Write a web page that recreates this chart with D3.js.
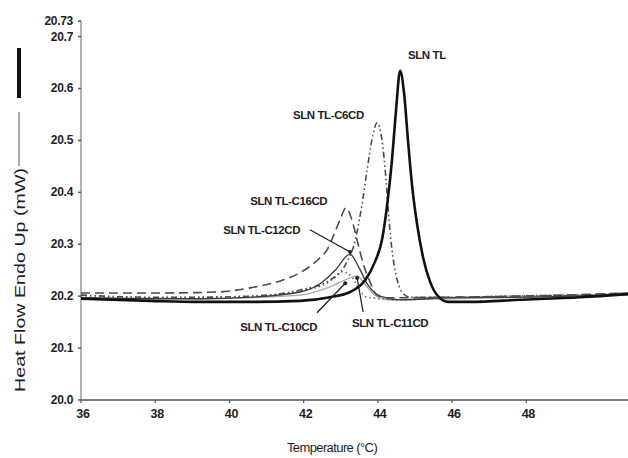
<!DOCTYPE html>
<html>
<head>
<meta charset="utf-8">
<script src="https://cdn.jsdelivr.net/npm/d3@7"></script>
<style>
  html, body { margin: 0; padding: 0; background: #fff; }
  text { font-family: "Liberation Sans", Arial, sans-serif; fill: #1e1e1e; }
</style>
</head>
<body>
<div id="chart"></div>
<script>
// Data: [temperature, heat flow]
const xTicks = [36, 38, 40, 42, 44, 46, 48]
const yTicks = [20.0, 20.1, 20.2, 20.3, 20.4, 20.5, 20.6, 20.7, 20.73]
const yTickLabels = ['20.0', '20.1', '20.2', '20.3', '20.4', '20.5', '20.6', '20.7', '20.73']

const slnTL = [[36.00,20.195],[37.86,20.191],[39.21,20.189],[40.56,20.189],[41.90,20.191],[42.71,20.198],
  [43.25,20.208],[43.66,20.231],[43.92,20.266],[44.11,20.308],[44.25,20.376],[44.38,20.462],[44.49,20.559],
  [44.60,20.634],[44.71,20.588],[44.81,20.501],[44.92,20.414],[45.06,20.337],[45.22,20.274],[45.41,20.227],
  [45.62,20.200],[45.89,20.189],[46.49,20.189],[47.83,20.193],[49.45,20.198],[50.74,20.204]]
const slnC6 = [[36.00,20.202],[37.86,20.198],[39.21,20.198],[40.56,20.200],[41.90,20.212],[42.71,20.231],
  [43.12,20.260],[43.39,20.308],[43.57,20.376],[43.71,20.443],[43.84,20.501],[43.98,20.534],[44.11,20.501],
  [44.22,20.424],[44.30,20.347],[44.38,20.289],[44.49,20.241],[44.65,20.208],[44.87,20.198],[45.95,20.198],
  [47.83,20.200],[49.45,20.202],[50.74,20.206]]
const slnC16 = [[36.00,20.206],[37.86,20.206],[39.67,20.208],[40.56,20.216],[41.44,20.231],[41.90,20.245],
  [42.44,20.274],[42.63,20.289],[42.79,20.314],[42.98,20.347],[43.14,20.370],[43.30,20.347],[43.44,20.308],
  [43.60,20.264],[43.79,20.227],[43.95,20.204],[44.19,20.197],[45.95,20.198],[47.83,20.200],[50.74,20.206]]
const slnC12 = [[36.00,20.197],[37.86,20.195],[39.21,20.195],[40.56,20.198],[41.90,20.208],[42.44,20.224],
  [42.85,20.250],[43.25,20.281],[43.47,20.258],[43.71,20.224],[44.06,20.200],[44.60,20.193],[45.95,20.197],
  [47.83,20.198],[50.74,20.204]]
const slnC10 = [[36.00,20.198],[37.86,20.197],[40.56,20.200],[41.90,20.210],[42.63,20.225],[43.06,20.247],
  [43.30,20.237],[43.52,20.210],[43.71,20.198],[44.60,20.193],[45.95,20.197],[50.74,20.204]]
const slnC11 = [[36.00,20.197],[39.21,20.195],[41.90,20.202],[42.71,20.218],[43.25,20.235],[43.44,20.239],
  [43.66,20.222],[43.92,20.202],[44.33,20.193],[45.95,20.195],[50.74,20.202]]

// Curve labels: text, anchor point [t, v], optional pointer [from, to]
const labels = [
  { text: 'SLN TL', at: [44.81, 20.657] },
  { text: 'SLN TL-C6CD', at: [41.71, 20.541] },
  { text: 'SLN TL-C16CD', at: [40.56, 20.376] },
  { text: 'SLN TL-C12CD', at: [39.83, 20.320], line: [[42.17, 20.328], [43.25, 20.285]] },
  { text: 'SLN TL-C10CD', at: [40.29, 20.133], line: [[42.36, 20.168], [43.12, 20.225]] },
  { text: 'SLN TL-C11CD', at: [43.30, 20.141], line: [[43.60, 20.170], [43.44, 20.235]] }
]

const series = [
  { data: slnC11, color: '#a8a8a8', width: 1.3, dash: null },
  { data: slnC10, color: '#6a6a6a', width: 1.6, dash: '1.5,3' },
  { data: slnC12, color: '#3a3a3a', width: 1.3, dash: null },
  { data: slnC16, color: '#4a4a4a', width: 1.6, dash: '9,5' },
  { data: slnC6, color: '#4a4a4a', width: 1.6, dash: '6,3,1.5,3,1.5,3' },
  { data: slnTL, color: '#111111', width: 2.6, dash: null }
]

const width = 628
const height = 458

const svg = d3.select('#chart')
  .append('svg')
    .attr('width', width)
    .attr('height', height)

const x = d3.scaleLinear().domain([36, 50.74]).range([81, 628])
const y = d3.scaleLinear().domain([20, 20.73]).range([400, 21])

// Y axis
svg.append('line')
  .attr('x1', x(36)).attr('x2', x(36))
  .attr('y1', y(20)).attr('y2', y(20.73))
  .attr('stroke', '#9a9a9a').attr('stroke-width', 1.5)

yTicks.forEach((v, i) => {
  svg.append('line')
    .attr('x1', x(36) - 3).attr('x2', x(36))
    .attr('y1', y(v)).attr('y2', y(v))
    .attr('stroke', '#555').attr('stroke-width', 1.5)
  svg.append('text')
    .attr('x', x(36) - 8)
    .attr('y', y(v) + 4)
    .attr('text-anchor', 'end')
    .attr('font-size', 12)
    .attr('font-weight', 'bold')
    .attr('letter-spacing', -0.3)
    .text(yTickLabels[i])
})

// X axis
svg.append('line')
  .attr('x1', x(36)).attr('x2', 628)
  .attr('y1', y(20)).attr('y2', y(20))
  .attr('stroke', '#555').attr('stroke-width', 1.6)

xTicks.forEach(t => {
  svg.append('line')
    .attr('x1', x(t)).attr('x2', x(t))
    .attr('y1', y(20)).attr('y2', y(20) + 3)
    .attr('stroke', '#555').attr('stroke-width', 1.2)
  svg.append('text')
    .attr('x', x(t) + 2)
    .attr('y', y(20) + 18)
    .attr('text-anchor', 'middle')
    .attr('font-size', 12.5)
    .attr('font-weight', 'bold')
    .attr('letter-spacing', -0.3)
    .text(t)
})

svg.append('text')
  .attr('x', 332)
  .attr('y', 452)
  .attr('text-anchor', 'middle')
  .attr('font-size', 13)
  .attr('letter-spacing', -0.6)
  .text('Temperature (°C)')

// Y title with the two line swatches above it
svg.append('rect')
  .attr('x', 17).attr('y', 48).attr('width', 4).attr('height', 50)
  .attr('fill', '#111')
svg.append('rect')
  .attr('x', 18).attr('y', 112).attr('width', 2).attr('height', 54)
  .attr('fill', '#a8a8a8')
svg.append('text')
  .attr('transform', 'translate(25,280) rotate(-90)')
  .attr('text-anchor', 'middle')
  .attr('font-size', 15)
  .attr('textLength', 224)
  .attr('lengthAdjust', 'spacingAndGlyphs')
  .text('Heat Flow Endo Up (mW)')

// Curves
const line = d3.line()
  .x(d => x(d[0]))
  .y(d => y(d[1]))
  .curve(d3.curveMonotoneX)

svg.selectAll('.curve')
  .data(series)
  .enter()
  .append('path')
    .attr('class', 'curve')
    .attr('d', d => line(d.data))
    .attr('fill', 'none')
    .attr('stroke', d => d.color)
    .attr('stroke-width', d => d.width)
    .attr('stroke-dasharray', d => d.dash)
    .attr('stroke-linejoin', 'round')

// Labels and pointers
labels.forEach(l => {
  if (l.line) {
    svg.append('line')
      .attr('x1', x(l.line[0][0])).attr('y1', y(l.line[0][1]))
      .attr('x2', x(l.line[1][0])).attr('y2', y(l.line[1][1]))
      .attr('stroke', '#222').attr('stroke-width', 1.3)
    svg.append('circle')
      .attr('cx', x(l.line[1][0])).attr('cy', y(l.line[1][1]))
      .attr('r', 2).attr('fill', '#222')
  }
  svg.append('text')
    .attr('x', x(l.at[0]))
    .attr('y', y(l.at[1]))
    .attr('font-size', 11.5)
    .attr('font-weight', 'bold')
    .attr('letter-spacing', -0.4)
    .text(l.text)
})
</script>
</body>
</html>
